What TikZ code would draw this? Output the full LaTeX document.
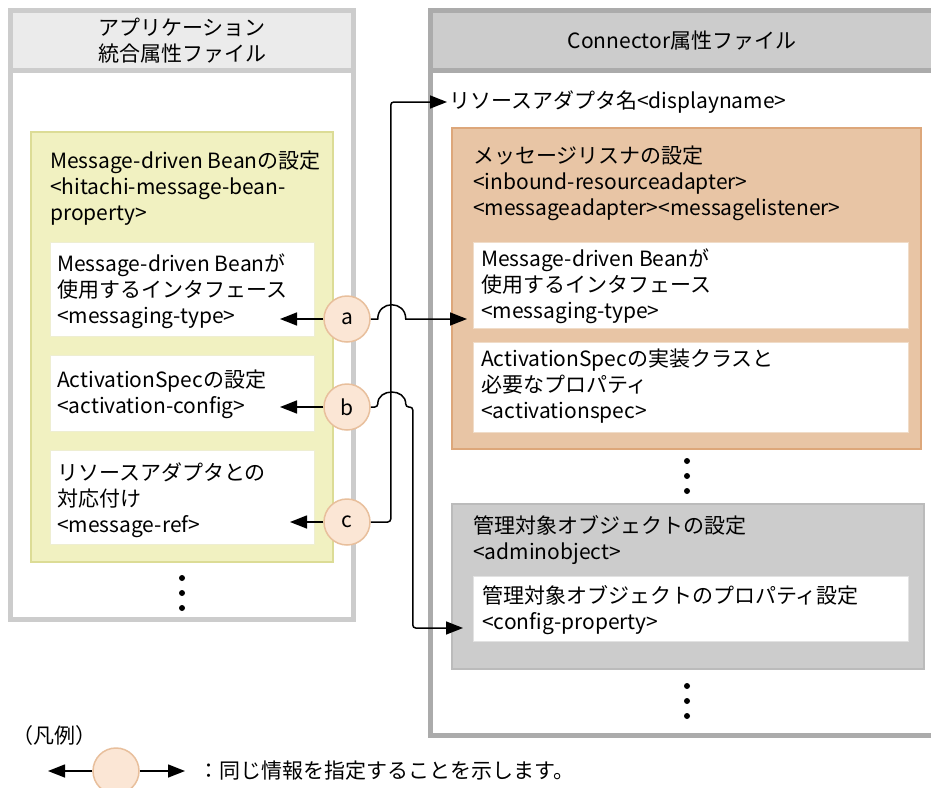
\documentclass[tikz,border=0pt]{standalone}
\usepackage{fontspec}
\setmainfont{Noto Sans CJK JP}
\usetikzlibrary{arrows.meta}
\definecolor{lgray}{HTML}{CCCCCC}
\definecolor{lhead}{HTML}{EBEBEB}
\definecolor{rgray}{HTML}{ABABAB}
\definecolor{rhead}{HTML}{CCCCCC}
\definecolor{yfill}{HTML}{F1F1C1}
\definecolor{yline}{HTML}{DCDC96}
\definecolor{ywline}{HTML}{EEEED2}
\definecolor{ofill}{HTML}{E8C5A5}
\definecolor{oline}{HTML}{DDA77A}
\definecolor{owline}{HTML}{F0DCC8}
\definecolor{gfill}{HTML}{CCCCCC}
\definecolor{gline}{HTML}{BBBBBB}
\definecolor{gwline}{HTML}{E2E2E2}
\definecolor{circfill}{HTML}{FBE6D5}
\definecolor{circline}{HTML}{E8BF9C}
\begin{document}
\begin{tikzpicture}[x=1pt,y=-1pt,
  txt/.style={anchor=north west,inner sep=0pt,align=left,font=\fontsize{21}{26}\selectfont},
  ctxt/.style={anchor=north,inner sep=0pt,align=center,font=\fontsize{21}{26}\selectfont},
  ltxt/.style={anchor=west,inner sep=0pt,font=\fontsize{21}{26}\selectfont},
  wbox/.style={fill=white,draw=#1,line width=1pt},
  circ/.style={circle,minimum size=46pt,inner sep=0pt,fill=circfill,draw=circline,line width=1.5pt,font=\fontsize{21}{24}\selectfont},
  conn/.style={line width=1.5pt},
  arr/.style={-{Triangle[length=17pt,width=13pt]}},
  blackdot/.style={circle,fill=black,inner sep=0pt,minimum size=6pt}
]
\useasboundingbox (0,0) rectangle (931,787);
\fill[white] (0,0) rectangle (931,787);

% ---------- left file ----------
\draw[line width=5pt,draw=lgray,fill=white] (10.5,70.5) rectangle (353.5,619.5);
\draw[line width=5pt,draw=lgray,fill=lhead] (10.5,10.5) rectangle (353.5,70.5);
\node[ctxt] (lh) at (182,17) {\strut アプリケーション\\統合属性ファイル};

\draw[fill=yfill,draw=yline,line width=2pt] (31,132) rectangle (333,562);
\node[txt] (yt) at (50,150) {\strut Message-driven Beanの設定\\<hitachi-message-bean-\\property>};
\draw[wbox=ywline] (50,242) rectangle (314,336);
\node[txt] (l1) at (57,253) {\strut Message-driven Beanが\\使用するインタフェース\\<messaging-type>};
\draw[wbox=ywline] (50,355) rectangle (314,431);
\node[txt] (l2) at (57,369) {\strut ActivationSpecの設定\\<activation-config>};
\draw[wbox=ywline] (50,450) rectangle (314,544);
\node[txt] (l3) at (57,462) {\strut リソースアダプタとの\\対応付け\\<message-ref>};
\node[blackdot] (ld1) at (182,578) {};
\node[blackdot] (ld2) at (182,593) {};
\node[blackdot] (ld3) at (182,608) {};

% ---------- right file ----------
\draw[line width=5pt,draw=rgray,fill=white] (430.5,70.5) rectangle (945,735.5);
\draw[line width=5pt,draw=rgray,fill=rhead] (430.5,10.5) rectangle (945,70.5);
\node[ctxt] (rh) at (682,30) {\strut Connector属性ファイル};

\node[ltxt] (dn) at (449,102) {リソースアダプタ名<displayname>};

\draw[fill=ofill,draw=oline,line width=2pt] (452,128) rectangle (921,449);
\node[txt] (ot) at (473,145) {\strut メッセージリスナの設定\\<inbound-resourceadapter>\\<messageadapter><messagelistener>};
\draw[wbox=owline] (473,242) rectangle (908,328);
\node[txt] (o1) at (481,248) {\strut Message-driven Beanが\\使用するインタフェース\\<messaging-type>};
\draw[wbox=owline] (473,342) rectangle (908,432);
\node[txt] (o2) at (481,348) {\strut ActivationSpecの実装クラスと\\必要なプロパティ\\<activationspec>};
\node[blackdot] (rd1) at (687,461) {};
\node[blackdot] (rd2) at (687,476) {};
\node[blackdot] (rd3) at (687,491) {};

\draw[fill=gfill,draw=gline,line width=2pt] (452,504) rectangle (924,669);
\node[txt] (gt) at (473,515) {\strut 管理対象オブジェクトの設定\\<adminobject>};
\draw[wbox=gwline] (473,576) rectangle (908,641);
\node[txt] (g1) at (482,585) {\strut 管理対象オブジェクトのプロパティ設定\\<config-property>};
\node[blackdot] (rd4) at (687,686) {};
\node[blackdot] (rd5) at (687,701) {};
\node[blackdot] (rd6) at (687,716) {};

% ---------- circles and connectors ----------
\node[circ] (ca) at (347,319) {a};
\node[circ] (cb) at (347,407) {b};
\node[circ] (cc) at (347,522) {c};
\coordinate (ta) at (280,319);
\coordinate (tb) at (280,407);
\coordinate (tc) at (290,522);
\coordinate (ra) at (467,319);
\coordinate (rb) at (463,628);
\coordinate (rc) at (447,102);

\draw[conn,arr] (ca) -- (ta);
\draw[conn,arr] (cb) -- (tb);
\draw[conn,arr] (cc) -- (tc);
\draw[conn,arr,rounded corners=3pt] (cc.east) -- ++(20,0) |- (rc);
\draw[conn,arr] (ca.east) -- ++(7,0) .. controls +(0,-19) and +(0,-19) .. ++(28,0) -- (ra);
\draw[conn,arr,rounded corners=3pt] (cb.east) -- ++(7,0) .. controls +(0,-19) and +(0,-19) .. ++(28,0) -- ++(7,0) |- (rb);

% ---------- legend ----------
\node[txt] (lg) at (12,725) {\strut （凡例）};
\node[circ] (lc) at (116,771) {};
\coordinate (ll) at (48,771);
\coordinate (lr) at (185,771);
\draw[conn,arr] (lc) -- (ll);
\draw[conn,arr] (lc) -- (lr);
\node[ltxt] (lt) at (198,771) {：同じ情報を指定することを示します。};
\end{tikzpicture}
\end{document}
